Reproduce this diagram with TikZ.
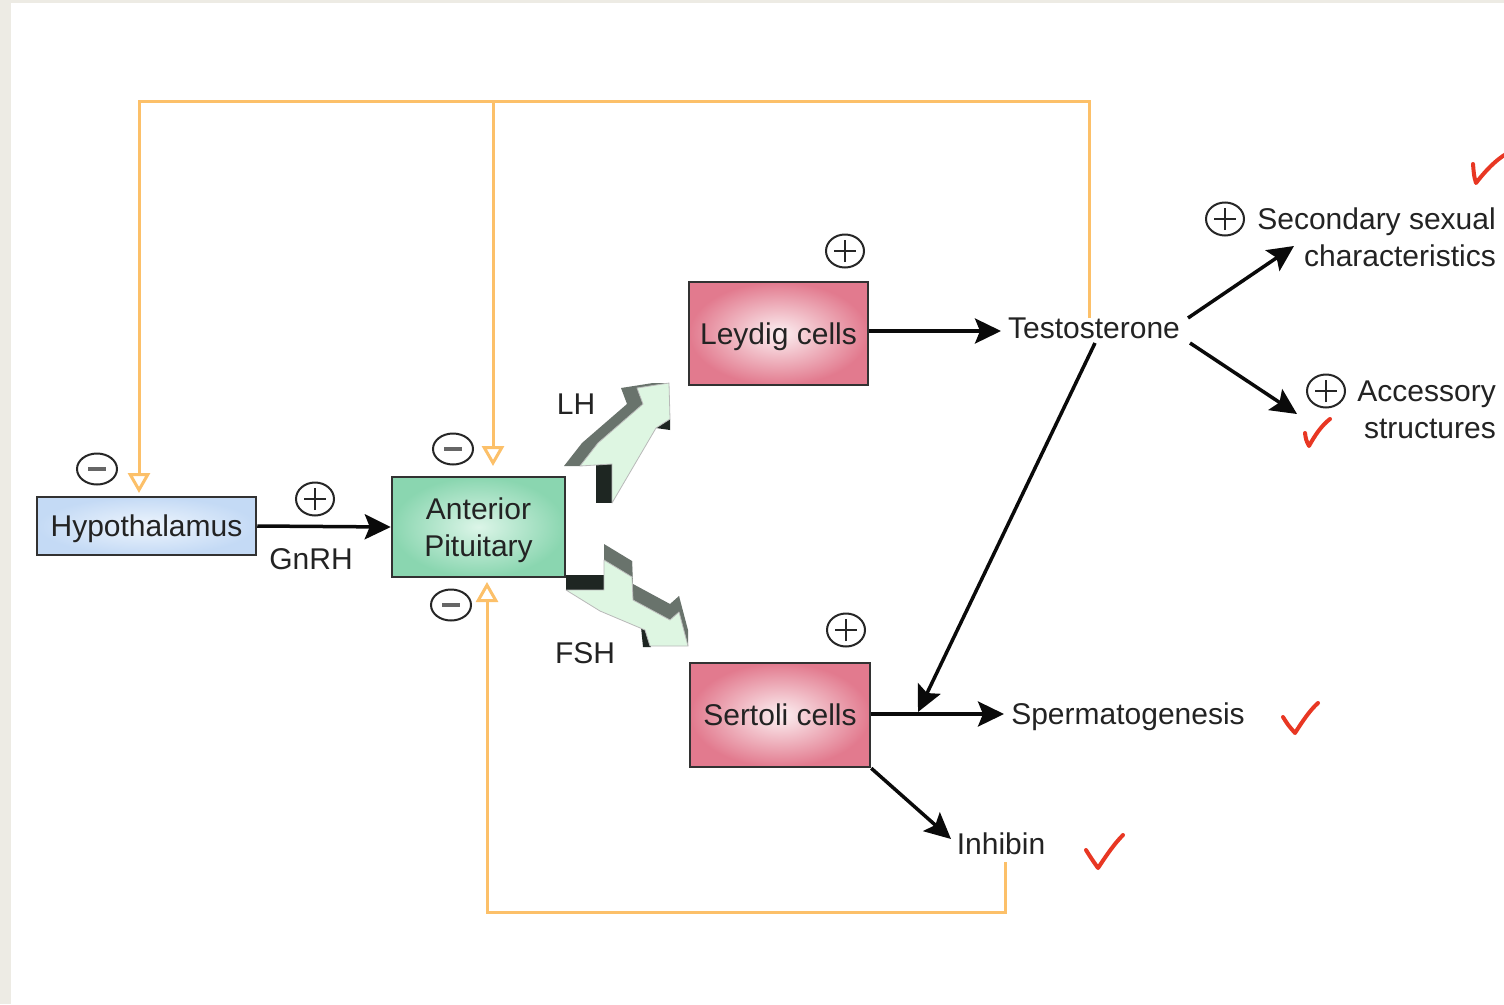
\documentclass[tikz,border=0pt]{standalone}
\usepackage{fontspec}
\setmainfont{Liberation Sans}
\usetikzlibrary{arrows.meta,shapes.geometric}
\definecolor{bgray}{RGB}{237,235,228}
\definecolor{fb}{RGB}{252,192,105}
\definecolor{txt}{RGB}{35,35,35}
\definecolor{boxln}{RGB}{50,50,50}
\definecolor{arrk}{RGB}{10,10,10}
\definecolor{chk}{RGB}{232,55,35}
\definecolor{lgreen}{RGB}{222,246,226}
\definecolor{dgray}{RGB}{105,115,108}
\definecolor{dblack}{RGB}{30,38,34}
\newcommand\dfont{\fontsize{30}{37}\selectfont}
\begin{document}
\begin{tikzpicture}[x=1pt,y=-1pt,
  box/.style={draw=boxln, line width=2.5pt, inner sep=0pt, font=\dfont, text=txt, shading=radial, text depth=0pt},
  lbl/.style={font=\dfont, text=txt, inner sep=0pt, text height=21.5pt, text depth=0pt},
  mlbl/.style={font=\dfont, text=txt, inner sep=0pt, align=right, anchor=east, text depth=0pt},
  blk/.style={line width=3.5pt, draw=arrk, -{Stealth[length=26pt,width=25pt,inset=5pt]}},
  fbk/.style={line width=3pt, draw=fb, -{Triangle[open,length=20pt,width=22pt]}},
  plusg/.style={ellipse, draw=black!85, line width=2pt, minimum width=38pt, minimum height=33pt, inner sep=0pt,
    path picture={\draw[line width=2pt, black!85] ([xshift=-11pt]path picture bounding box.center) -- ([xshift=11pt]path picture bounding box.center);
      \draw[line width=2pt, black!85] ([yshift=-11pt]path picture bounding box.center) -- ([yshift=11pt]path picture bounding box.center);}},
  minusg/.style={ellipse, draw=black!85, line width=2pt, minimum width=40pt, minimum height=31pt, inner sep=0pt,
    path picture={\draw[line width=4pt, black!60] ([xshift=-9pt]path picture bounding box.center) -- ([xshift=9pt]path picture bounding box.center);}},
  checkm/.style={draw=chk, line width=4pt, line cap=round, line join=round},
  front/.style={fill=lgreen, draw=gray!55, line width=0.8pt, line join=round},
  sideg/.style={fill=dgray},
  sideb/.style={fill=dblack}
]
\useasboundingbox (0,0) rectangle (1504,1004);
\fill[bgray] (0,0) rectangle (1504,1004);
\fill[white] (11,3) rectangle (1504,1004);

% boxes
\node[box, minimum width=219pt, minimum height=58pt, inner color={rgb,255:red,238;green,245;blue,253}, outer color={rgb,255:red,196;green,218;blue,245}] (hyp) at (146.5,526) {Hypothalamus};
\node[box, minimum width=173pt, minimum height=100pt, align=center, inner color={rgb,255:red,220;green,245;blue,232}, outer color={rgb,255:red,138;green,214;blue,176}] (ap) at (478.5,527) {Anterior\\Pituitary};
\node[box, minimum width=179pt, minimum height=103pt, inner color={rgb,255:red,252;green,240;blue,242}, outer color={rgb,255:red,226;green,122;blue,142}] (ley) at (778.5,333.5) {Leydig cells};
\node[box, minimum width=180pt, minimum height=104pt, inner color={rgb,255:red,252;green,240;blue,242}, outer color={rgb,255:red,226;green,122;blue,142}] (ser) at (780,715) {Sertoli cells};

% labels
\node[lbl] (gnrh) at (311,559) {GnRH};
\node[lbl] (lh) at (576,404) {LH};
\node[lbl] (fsh) at (585,653) {FSH};
\node[lbl] (testo) at (1094,328) {Testosterone};
\node[lbl] (sperm) at (1128,714) {Spermatogenesis};
\node[lbl] (inh) at (1001,844) {Inhibin};
\node[mlbl] (sec) at (1496,237.5) {Secondary sexual\\characteristics};
\node[mlbl] (acc) at (1496,409.5) {Accessory\\structures};

% signs
\node[minusg] (m1) at (97,469) {};
\node[plusg] (p1) at (315,499) {};
\node[minusg] (m2) at (453,449) {};
\node[minusg] (m3) at (451,605) {};
\node[plusg] (p2) at (845,251) {};
\node[plusg] (p3) at (846,630) {};
\node[plusg] (p4) at (1225,219) {};
\node[plusg] (p5) at (1326,391) {};

% connector end points
\coordinate (tTop) at (1089,318);
\coordinate (hypIn) at (139,493);
\coordinate (topJ) at (493,101);
\coordinate (apTopIn) at (493,466);
\coordinate (apBotIn) at (487,582);
\coordinate (inhOut) at (1005,862);
\coordinate (testoSecS) at (1188,318);
\coordinate (secIn) at (1294,246);
\coordinate (testoAccS) at (1190,343);
\coordinate (accIn) at (1297,414);
\coordinate (testoDownS) at (1095,343);
\coordinate (serIn) at (918,712);
\coordinate (inhIn) at (951,839);
\coordinate (testoIn) at (1001,331);
\coordinate (spermIn) at (1004,714);

% orange feedback
\draw[fbk] (tTop) -- (1089,101) -- (139,101) -- (hypIn);
\draw[fbk] (topJ) -- (apTopIn);
\draw[fbk] (inhOut) -- (1005,912) -- (487,912) -- (apBotIn);

% black arrows
\draw[blk] (hyp.east) -- (ap.west);
\draw[blk] (ley.east |- testoIn) -- (testoIn);
\draw[blk] (ser.east |- spermIn) -- (spermIn);
\draw[blk] (ser.south east) -- (inhIn);
\draw[blk] (testoSecS) -- (secIn);
\draw[blk] (testoAccS) -- (accIn);
\draw[blk] (testoDownS) -- (serIn);

% LH 3D arrow
\fill[sideb] (612,503) -- (612,464) -- (596,464) -- (596,503) -- cycle;
\fill[sideg] (580,466) -- (598,443) -- (582,443) -- (564,466) -- cycle;
\fill[sideg] (598,443) -- (643,404) -- (627,404) -- (582,443) -- cycle;
\fill[sideg] (643,404) -- (637,388) -- (621,388) -- (627,404) -- cycle;
\fill[sideg] (637,388) -- (669,383) -- (653,383) -- (621,388) -- cycle;
\fill[sideb] (656,428) -- (670,419) -- (670,430) -- cycle;
\path[front] (612,503) -- (612,464) -- (580,466) -- (598,443) -- (643,404) -- (637,388) -- (669,383) -- (670,419) -- (656,428) -- cycle;

% FSH 3D arrow
\fill[sideb] (566,590) -- (604,590) -- (604,575) -- (566,575) -- cycle;
\fill[sideg] (604,560) -- (632,577) -- (632,561) -- (604,544) -- cycle;
\fill[sideg] (632,577) -- (633,600) -- (633,584) -- (632,561) -- cycle;
\fill[sideg] (633,600) -- (670,620) -- (670,604) -- (633,584) -- cycle;
\fill[sideg] (670,620) -- (679,612) -- (679,596) -- (670,604) -- cycle;
\fill[sideg] (679,612) -- (688,646) -- (688,630) -- (679,596) -- cycle;
\fill[sideb] (641,627) -- (648,630) -- (651,647) -- (643,647) -- cycle;
\path[front] (566,590) -- (604,590) -- (604,560) -- (632,577) -- (633,600) -- (670,620) -- (679,612) -- (688,646) -- (650,646) -- (645,630) -- (600,611) -- cycle;

% red check marks
\draw[checkm] (1473,164) .. controls (1474,176) .. (1476,183) .. controls (1486,170) and (1496,160) .. (1506,154);
\draw[checkm] (1305,433) .. controls (1306,440) .. (1309,446) .. controls (1315,435) and (1322,425) .. (1330,419);
\draw[checkm] (1283,717) .. controls (1288,725) .. (1295,733) .. controls (1302,722) and (1310,710) .. (1318,703);
\draw[checkm] (1086,850) .. controls (1091,858) .. (1098,868) .. controls (1106,856) and (1114,844) .. (1123,835);
\end{tikzpicture}
\end{document}
